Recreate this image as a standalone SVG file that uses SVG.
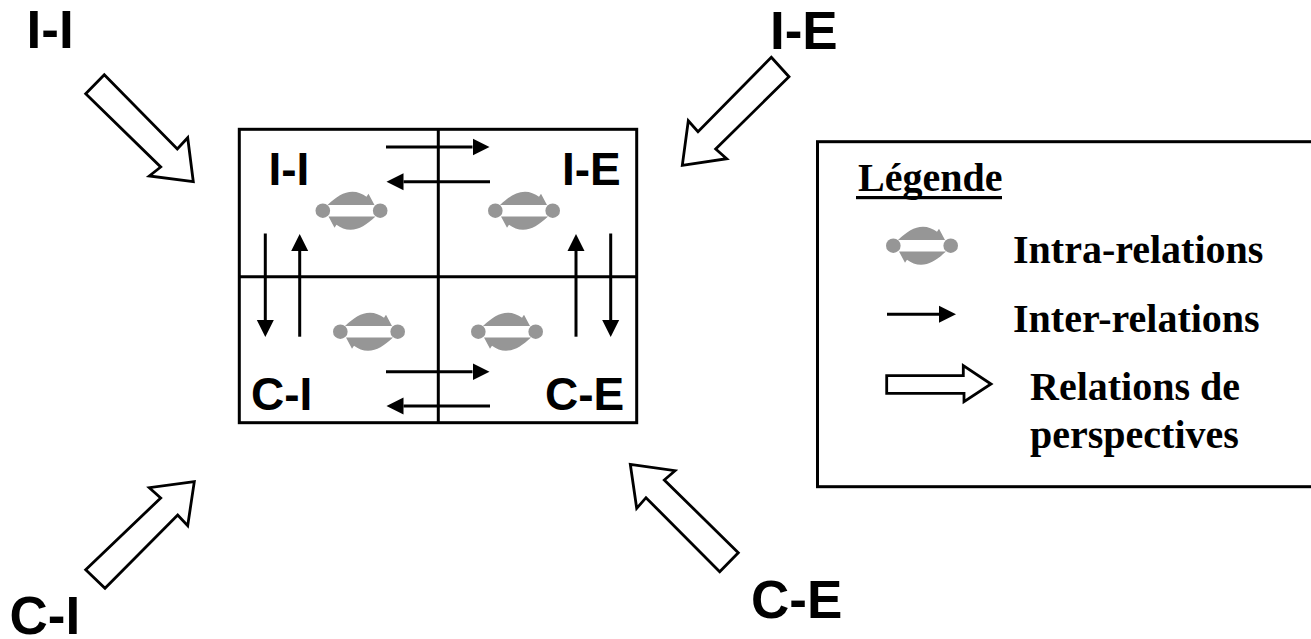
<svg xmlns="http://www.w3.org/2000/svg" width="1311" height="639" viewBox="0 0 1311 639">
<style>
.big{font-family:"Liberation Sans",Arial,sans-serif;font-weight:700;font-size:53px;fill:#000}
.cell{font-family:"Liberation Sans",Arial,sans-serif;font-weight:700;font-size:46px;fill:#000}
.leg{font-family:"Liberation Serif","Times New Roman",serif;font-weight:700;font-size:40px;fill:#000}
.line{stroke:#000;stroke-width:3;fill:none}
.inter{stroke:#000;stroke-width:3;fill:none;marker-end:url(#head)}
.hollow{stroke:#000;stroke-width:2.8;fill:#fff;stroke-linejoin:miter}
</style>
<defs>
<marker id="head" markerUnits="userSpaceOnUse" markerWidth="18" markerHeight="18" refX="0" refY="9" orient="auto" viewBox="0 0 18 18"><path d="M0,0.5 L17,9 L0,17.5 Z" fill="#000"/></marker>
<g id="intra">
<circle cx="-28.7" cy="0" r="7.3" fill="#969696"/>
<circle cx="28.7" cy="0" r="7.3" fill="#969696"/>
<path d="M-24,-5.8 C-15,-14 -8,-19 1,-19 C6,-19 11,-17 15,-14 L17,-17 L23,-5.8 Z" fill="#969696"/>
<path d="M24,5.8 C15,14 8,19 -1,19 C-6,19 -11,17 -15,14 L-17,17 L-23,5.8 Z" fill="#969696"/>
</g>
</defs>
<rect width="1311" height="639" fill="#fff"/>

<g id="matrix">
<rect x="239.3" y="129.3" width="397.4" height="293.4" class="line"/>
<line x1="438.3" y1="129.3" x2="438.3" y2="422.7" class="line"/>
<line x1="239.3" y1="276.7" x2="636.7" y2="276.7" class="line"/>
</g>

<g id="cell-ii"><text x="268.5" y="185" class="cell">I-I</text><use href="#intra" x="351.5" y="210.7"/></g>
<g id="cell-ie"><text x="562" y="185" class="cell">I-E</text><use href="#intra" x="524" y="210.7"/></g>
<g id="cell-ci"><text x="251" y="410" class="cell">C-I</text><use href="#intra" x="369" y="331.7"/></g>
<g id="cell-ce"><text x="545" y="410" class="cell">C-E</text><use href="#intra" x="507" y="331.7"/></g>

<g id="connectors">
<line x1="386" y1="147" x2="472.5" y2="147" class="inter"/>
<line x1="490" y1="181.7" x2="403.5" y2="181.7" class="inter"/>
<line x1="386" y1="371.7" x2="472.5" y2="371.7" class="inter"/>
<line x1="490" y1="406" x2="403.5" y2="406" class="inter"/>
<line x1="265.3" y1="233.5" x2="265.3" y2="320" class="inter"/>
<line x1="299.7" y1="336.7" x2="299.7" y2="251" class="inter"/>
<line x1="576" y1="336.7" x2="576" y2="251" class="inter"/>
<line x1="610.7" y1="233.5" x2="610.7" y2="320" class="inter"/>
<polygon class="hollow" points="104.3,74.7 85.7,93.7 160.7,167 149.3,176 193.3,181.7 187.7,137.7 177.3,149"/>
<polygon class="hollow" points="771.3,57.3 789,76.7 715.7,149 726.7,158.7 682.3,165.3 688.3,120.7 698,131.7"/>
<polygon class="hollow" points="85.7,569.7 105,588.3 177.7,515 187.7,525.7 194.3,481.7 149.3,487.7 160.7,498"/>
<polygon class="hollow" points="738.3,552.7 719.7,571.7 646,497.7 636.7,508.3 630.3,464.3 675,470.7 664.3,480"/>
</g>

<g id="label-ii"><text x="26.6" y="48" class="big">I-I</text></g>
<g id="label-ie"><text x="770" y="49" class="big">I-E</text></g>
<g id="label-ci"><text x="9.5" y="634" class="big">C-I</text></g>
<g id="label-ce"><text x="751" y="618" class="big">C-E</text></g>

<g id="legend">
<rect x="817.5" y="141.7" width="520" height="345" class="line"/>
<text x="858" y="191" class="leg">Légende</text>
<rect x="856" y="196" width="146" height="3.2" fill="#000"/>
<use href="#intra" x="922" y="245.7"/>
<text x="1013" y="263" class="leg">Intra-relations</text>
<line x1="887" y1="314.3" x2="939" y2="314.3" class="inter"/>
<text x="1013" y="331.5" class="leg">Inter-relations</text>
<polygon class="hollow" points="886.7,375.7 963.3,375.7 963.3,365.7 991,384 964,401.7 964,393.3 886.7,393.3"/>
<text x="1030" y="400" class="leg">Relations de</text>
<text x="1030" y="448" class="leg">perspectives</text>
</g>
</svg>
